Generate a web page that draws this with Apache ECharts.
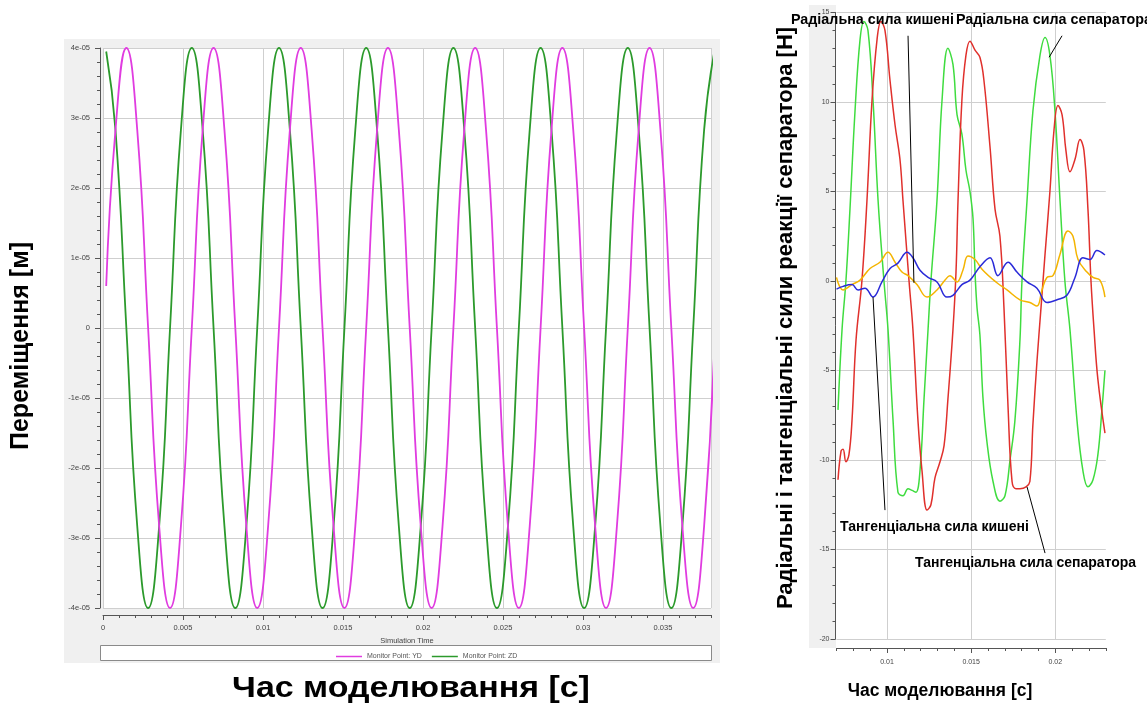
<!DOCTYPE html>
<html>
<head>
<meta charset="utf-8">
<script src="https://cdn.jsdelivr.net/npm/echarts@6/dist/echarts.min.js"></script>
<style>
  html, body { margin: 0; padding: 0; background: #ffffff; }
  #chart { width: 1147px; height: 703px; }
</style>
</head>
<body>
<div id="chart"></div>
<script>
// ---------- Left panel: monitor point displacements ----------
// simulation time, s
const simTime = [
  0.0002, 0.00078, 0.00146, 0.00214, 0.00282, 0.00351, 0.00419, 0.00487,
  0.00555, 0.00623, 0.00691, 0.00759, 0.00827, 0.00896, 0.00964, 0.01032,
  0.01100, 0.01168, 0.01236, 0.01304, 0.01372, 0.01441, 0.01509, 0.01577,
  0.01645, 0.01713, 0.01781, 0.01849, 0.01917, 0.01986, 0.02054, 0.02122,
  0.02190, 0.02258, 0.02326, 0.02394, 0.02462, 0.02531, 0.02599, 0.02667,
  0.02735, 0.02803, 0.02871, 0.02939, 0.03007, 0.03076, 0.03144, 0.03212,
  0.03280, 0.03348, 0.03416, 0.03484, 0.03552, 0.03621, 0.03689, 0.03757,
  0.03825
];
// displacement, units of 1e-5 m
const displacementYD = [
  0.6, 2.83, 4, 2.83, 0, -2.83, -4, -2.83,
  0, 2.83, 4, 2.83, 0, -2.83, -4, -2.83,
  0, 2.83, 4, 2.83, 0, -2.83, -4, -2.83,
  0, 2.83, 4, 2.83, 0, -2.83, -4, -2.83,
  0, 2.83, 4, 2.83, 0, -2.83, -4, -2.83,
  0, 2.83, 4, 2.83, 0, -2.83, -4, -2.83,
  0, 2.83, 4, 2.83, 0, -2.83, -4, -2.83,
  0
];
const displacementZD = [
  3.95, 2.83, 0, -2.83, -4, -2.83, 0, 2.83,
  4, 2.83, 0, -2.83, -4, -2.83, 0, 2.83,
  4, 2.83, 0, -2.83, -4, -2.83, 0, 2.83,
  4, 2.83, 0, -2.83, -4, -2.83, 0, 2.83,
  4, 2.83, 0, -2.83, -4, -2.83, 0, 2.83,
  4, 2.83, 0, -2.83, -4, -2.83, 0, 2.83,
  4, 2.83, 0, -2.83, -4, -2.83, 0, 2.83,
  4
];
const displacementNames = ['Monitor Point: YD', 'Monitor Point: ZD'];

// ---------- Right panel: separator reaction forces, N ----------
const radialSepTime = [
  0.00709, 0.00733, 0.00756, 0.00780, 0.00810, 0.00840, 0.00863, 0.00887,
  0.00917, 0.00947, 0.00982, 0.01006, 0.01036, 0.01065, 0.01095, 0.01125,
  0.01149, 0.01172, 0.01196, 0.01220, 0.01244, 0.01261, 0.01297, 0.01327,
  0.01362, 0.01392, 0.01416, 0.01445, 0.01469, 0.01493, 0.01511, 0.01523,
  0.01535, 0.01552, 0.01570, 0.01594, 0.01630, 0.01671, 0.01701, 0.01731,
  0.01760, 0.01790, 0.01802, 0.01832, 0.01867, 0.01909, 0.01939, 0.01968,
  0.01998, 0.02028, 0.02057, 0.02087, 0.02129, 0.02164, 0.02194, 0.02224,
  0.02253, 0.02277, 0.02295
];
const radialSepForce = [
  -7.2, -2.7, 0, 4.0, 9.5, 13.5, 14.5, 14.0,
  10.1, 4.5, 0, -2.7, -7.8, -11.8, -12.0, -11.6,
  -11.7, -11.8, -10.6, -6.6, -2.7, 0, 4.5, 10.1,
  13.0, 12.1, 9.3, 8.2, 6.2, 5.0, 3.5, 0.5,
  -1.5, -3.0, -6.5, -9.0, -11.2, -12.3, -12.0, -10.0,
  -7.8, -3.3, 0, 4.5, 9.5, 12.6, 13.6, 12.6,
  9.5, 4.5, 0, -2.7, -7.8, -10.6, -11.5, -11.1,
  -9.7, -7.2, -5.0
];

const tangentialSepTime = [
  0.00709, 0.00727, 0.00739, 0.00756, 0.00774, 0.00792, 0.00816, 0.00851,
  0.00881, 0.00911, 0.00941, 0.00964, 0.00988, 0.01018, 0.01048, 0.01077,
  0.01095, 0.01131, 0.01154, 0.01184, 0.01208, 0.01238, 0.01261, 0.01285,
  0.01315, 0.01339, 0.01362, 0.01392, 0.01410, 0.01422, 0.01445, 0.01469,
  0.01493, 0.01523, 0.01552, 0.01576, 0.01612, 0.01642, 0.01671, 0.01695,
  0.01719, 0.01743, 0.01766, 0.01790, 0.01826, 0.01849, 0.01867, 0.01891,
  0.01915, 0.01939, 0.01968, 0.01992, 0.02016, 0.02040, 0.02063, 0.02087,
  0.02117, 0.02147, 0.02170, 0.02194, 0.02212, 0.02230, 0.02253, 0.02295
];
const tangentialSepForce = [
  -11.1, -9.5, -9.4, -10.1, -9.7, -7.8, -3.3, 0,
  4.5, 10.1, 13.5, 14.5, 14.0, 11.2, 8.7, 6.8,
  4.5, 0, -2.7, -7.8, -10.6, -12.8, -12.5, -11.0,
  -10.1, -9.2, -6.6, -2.7, 0.5, 4.5, 10.1, 12.6,
  13.4, 12.9, 12.5, 11.2, 7.5, 4.0, 2.5, -1.5,
  -7.0, -11.2, -11.6, -11.6, -11.5, -11.2, -8.0, -4.5,
  -1.5, 1.5, 5.0, 8.4, 9.8, 9.3, 7.3, 6.1,
  6.8, 7.9, 7.3, 4.0, 0, -2.7, -5.5, -8.5
];

const radialPocketTime = [
  0.00700, 0.00739, 0.00792, 0.00840, 0.00899, 0.00958, 0.01006, 0.01048,
  0.01089, 0.01125, 0.01178, 0.01238, 0.01297, 0.01345, 0.01374, 0.01416,
  0.01451, 0.01481, 0.01523, 0.01570, 0.01653, 0.01713, 0.01790, 0.01849,
  0.01891, 0.01921, 0.01950, 0.01986, 0.02028, 0.02075, 0.02105, 0.02135,
  0.02188, 0.02224, 0.02265, 0.02295
];
const radialPocketForce = [
  0.2, -0.5, -0.2, 0.05, 0.7, 1.05, 1.6, 1.05,
  0.5, 0.3, -0.2, -0.9, -0.5, 0.05, 0.3, -0.05,
  0.6, 1.4, 1.2, 0.6, -0.1, -0.5, -1.05, -1.2,
  -1.4, -0.5, 0.2, 0.3, 1.5, 2.8, 2.5, 1.2,
  0.5, 0.2, 0.05, -0.9
];

const tangentialPocketTime = [
  0.00700, 0.00739, 0.00792, 0.00828, 0.00869, 0.00917, 0.00970, 0.01018,
  0.01065, 0.01119, 0.01154, 0.01196, 0.01244, 0.01297, 0.01356, 0.01392,
  0.01445, 0.01493, 0.01552, 0.01612, 0.01659, 0.01719, 0.01772, 0.01832,
  0.01891, 0.01950, 0.02010, 0.02069, 0.02117, 0.02164, 0.02206, 0.02247,
  0.02295
];
const tangentialPocketForce = [
  -0.45, -0.3, -0.2, -0.5, -0.4, -0.9, -0.05, 0.7,
  1.0, 1.6, 1.3, 0.6, 0.2, -0.05, -0.9, -0.8,
  -0.2, 0.05, 0.8, 1.3, 0.3, 1.05, 0.5, -0.05,
  -0.4, -1.2, -1.05, -0.8, 0.2, 1.3, 1.2, 1.7,
  1.45
];

const forceNames = [
  'Радіальна сила сепаратора',
  'Тангенціальна сила сепаратора',
  'Радіальна сила кишені',
  'Тангенціальна сила кишені'
];

// Callouts: label text and the curve point each leader line runs to (data coords)
const callouts = [
  { text: 'Радіальна сила кишені',          labelX: 791, labelY: 20,  size: 14.3, from: [0.01125, 13.7],  to: [0.0116, -0.1] },
  { text: 'Радіальна сила сепаратора',      labelX: 956, labelY: 20,  size: 14.3, from: [0.0204, 13.7],   to: [0.01963, 12.5] },
  { text: 'Тангенціальна сила кишені',      labelX: 840, labelY: 527, size: 14,   from: [0.00988, -12.8], to: [0.00917, -0.9] },
  { text: 'Тангенціальна сила сепаратора',  labelX: 915, labelY: 563, size: 14,   from: [0.01939, -15.2], to: [0.01832, -11.5] }
];

const zip = (xs, ys) => xs.map((x, i) => [x, ys[i]]);

const FONT = '"Liberation Sans", Arial, sans-serif';
const tickLabel = { fontFamily: FONT, fontSize: 7.5, color: '#444' };
const gridLine = { lineStyle: { color: '#cfcfcf', width: 1 } };
const axisDark = { onZero: false, lineStyle: { color: '#555', width: 1 } };

const chart = echarts.init(document.getElementById('chart'), null, { renderer: 'canvas' });

// static backdrop: grey frames and big axis titles
const baseGraphics = [
  { type: 'rect', z: -10, shape: { x: 64, y: 39, width: 656, height: 624 }, style: { fill: '#f0f0f0' } },
  { type: 'rect', z: -9, shape: { x: 100.5, y: 645.5, width: 611, height: 15 }, style: { fill: '#ffffff', stroke: '#8a8a8a', lineWidth: 1 } },
  { type: 'rect', z: -10, shape: { x: 809, y: 5, width: 27, height: 643 }, style: { fill: '#f0f0f0' } },
  { type: 'text', x: 21, y: 346, rotation: Math.PI / 2,
    style: { text: 'Переміщення [м]', fill: '#000', font: 'bold 25px ' + FONT, align: 'center', verticalAlign: 'middle' } },
  { type: 'text', x: 411, y: 689, scaleX: 1.17,
    style: { text: 'Час моделювання [с]', fill: '#000', font: 'bold 29px ' + FONT, align: 'center', verticalAlign: 'middle' } },
  { type: 'text', x: 786, y: 318, rotation: Math.PI / 2,
    style: { text: 'Радіальні і тангенціальні сили реакції сепаратора [Н]', fill: '#000', font: 'bold 22px ' + FONT, align: 'center', verticalAlign: 'middle' } },
  { type: 'text', x: 940, y: 691,
    style: { text: 'Час моделювання [с]', fill: '#000', font: 'bold 17.5px ' + FONT, align: 'center', verticalAlign: 'middle' } }
];

const option = {
  animation: false,
  backgroundColor: '#ffffff',
  grid: [
    { left: 103, top: 48, width: 608, height: 560, show: true, backgroundColor: '#ffffff', borderWidth: 0 },
    { left: 836.5, top: 12.5, width: 269.3, height: 626.5, show: true, backgroundColor: '#ffffff', borderWidth: 0 }
  ],
  legend: {
    data: displacementNames,
    left: 331, top: 648,
    icon: 'rect', itemWidth: 26, itemHeight: 1.5, itemGap: 10,
    textStyle: { fontFamily: FONT, fontSize: 7, color: '#555' }
  },
  xAxis: [
    { // displacement time axis
      gridIndex: 0, type: 'value', position: 'bottom', min: 0, max: 0.038, interval: 0.005, offset: 7,
      axisLine: axisDark, axisTick: { length: 5, lineStyle: { color: '#555' } },
      axisLabel: Object.assign({ margin: 9, showMaxLabel: false }, tickLabel),
      splitLine: Object.assign({ show: true }, gridLine),
      name: 'Simulation Time', nameLocation: 'middle', nameGap: 22,
      nameTextStyle: { fontFamily: FONT, fontSize: 7.5, color: '#444' }
    },
    { // minor ticks every 0.001 s
      gridIndex: 0, type: 'value', position: 'bottom', min: 0, max: 0.038, interval: 0.001, offset: 7,
      axisLine: { show: false, onZero: false }, axisTick: { length: 3, lineStyle: { color: '#555' } },
      axisLabel: { show: false }, splitLine: { show: false }
    },
    { // force time axis
      gridIndex: 1, type: 'value', position: 'bottom', min: 0.007, max: 0.023, splitNumber: 3, offset: 9,
      axisLine: axisDark, axisTick: { length: 5, lineStyle: { color: '#555' } },
      axisLabel: Object.assign({ margin: 11, showMinLabel: false, showMaxLabel: false }, tickLabel, { fontSize: 7 }),
      splitLine: Object.assign({ show: true, showMinLine: false, showMaxLine: false }, gridLine)
    },
    { // minor ticks every 0.001 s
      gridIndex: 1, type: 'value', position: 'bottom', min: 0.007, max: 0.023, interval: 0.001, offset: 9,
      axisLine: { show: false, onZero: false }, axisTick: { length: 3, lineStyle: { color: '#555' } },
      axisLabel: { show: false }, splitLine: { show: false }
    }
  ],
  yAxis: [
    {
      gridIndex: 0, type: 'value', position: 'left', min: -4, max: 4, interval: 1, offset: 3,
      axisLine: Object.assign({ show: true }, axisDark),
      axisTick: { show: true, length: 5, lineStyle: { color: '#555' } },
      minorTick: { show: true, splitNumber: 5, length: 3, lineStyle: { color: '#555' } },
      axisLabel: Object.assign({ margin: 10, formatter: v => (v === 0 ? '0' : v + 'e-05') }, tickLabel),
      splitLine: Object.assign({ show: true }, gridLine)
    },
    {
      gridIndex: 1, type: 'value', position: 'left', min: -20, max: 15, interval: 5, offset: 1,
      axisLine: Object.assign({ show: true }, axisDark),
      axisTick: { show: true, length: 5, lineStyle: { color: '#555' } },
      minorTick: { show: true, splitNumber: 5, length: 3, lineStyle: { color: '#555' } },
      axisLabel: Object.assign({ margin: 6 }, tickLabel, { fontSize: 7 }),
      splitLine: Object.assign({ show: true }, gridLine)
    }
  ],
  series: [
    { name: displacementNames[1], type: 'line', xAxisIndex: 0, yAxisIndex: 0, smooth: true, showSymbol: false,
      data: zip(simTime, displacementZD), lineStyle: { color: '#2c9a2c', width: 1.8 }, itemStyle: { color: '#2c9a2c' } },
    { name: displacementNames[0], type: 'line', xAxisIndex: 0, yAxisIndex: 0, smooth: true, showSymbol: false,
      data: zip(simTime, displacementYD), lineStyle: { color: '#e03ce0', width: 1.8 }, itemStyle: { color: '#e03ce0' } },

    { name: forceNames[0], type: 'line', xAxisIndex: 2, yAxisIndex: 1, smooth: 0.4, showSymbol: false,
      data: zip(radialSepTime, radialSepForce), lineStyle: { color: '#3fdc3f', width: 1.5 } },
    { name: forceNames[1], type: 'line', xAxisIndex: 2, yAxisIndex: 1, smooth: 0.4, showSymbol: false,
      data: zip(tangentialSepTime, tangentialSepForce), lineStyle: { color: '#e0302c', width: 1.5 } },
    { name: forceNames[2], type: 'line', xAxisIndex: 2, yAxisIndex: 1, smooth: 0.4, showSymbol: false,
      data: zip(radialPocketTime, radialPocketForce), lineStyle: { color: '#f4b400', width: 1.5 } },
    { name: forceNames[3], type: 'line', xAxisIndex: 2, yAxisIndex: 1, smooth: 0.4, showSymbol: false,
      data: zip(tangentialPocketTime, tangentialPocketForce), lineStyle: { color: '#2a2ad8', width: 1.5 } }
  ],
  graphic: baseGraphics
};

chart.setOption(option);

// callout labels and leader lines, anchored on the force axes
const calloutGraphics = [];
callouts.forEach(c => {
  const p1 = chart.convertToPixel({ xAxisIndex: 2, yAxisIndex: 1 }, c.from);
  const p2 = chart.convertToPixel({ xAxisIndex: 2, yAxisIndex: 1 }, c.to);
  calloutGraphics.push({ type: 'line', z: 20, shape: { x1: p1[0], y1: p1[1], x2: p2[0], y2: p2[1] },
    style: { stroke: '#000', lineWidth: 1 } });
  calloutGraphics.push({ type: 'text', z: 21, x: c.labelX, y: c.labelY,
    style: { text: c.text, fill: '#000', font: 'bold ' + c.size + 'px ' + FONT, align: 'left', verticalAlign: 'middle' } });
});
chart.setOption({ graphic: baseGraphics.concat(calloutGraphics) });
</script>
</body>
</html>
